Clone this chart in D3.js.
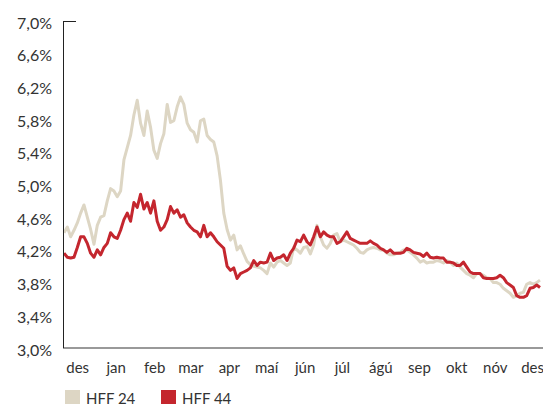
<!DOCTYPE html>
<html>
<head>
<meta charset="utf-8">
<script src="https://cdn.jsdelivr.net/npm/d3@7"></script>
<style>
  body { margin: 0; background: #fff; }
  svg text { font-family: Lato, "Open Sans", sans-serif; fill: #333; }
</style>
</head>
<body>
<svg id="chart" width="543" height="405"></svg>
<script>
// daily yields, roughly evenly spaced from early Dec to late Dec
const hff24 = [
  4.41, 4.48, 4.36, 4.44, 4.53, 4.65, 4.75, 4.60, 4.45, 4.27,
  4.50, 4.60, 4.62, 4.80, 4.95, 4.92, 4.85, 4.92, 5.30, 5.45,
  5.60, 5.85, 6.03, 5.75, 5.60, 5.90, 5.70, 5.42, 5.32, 5.50,
  5.62, 5.98, 5.76, 5.78, 5.95, 6.07, 5.98, 5.75, 5.67, 5.64,
  5.52, 5.78, 5.80, 5.60, 5.55, 5.52, 5.35, 5.05, 4.65, 4.45,
  4.32, 4.38, 4.20, 4.25, 4.15, 4.06, 4.02, 4.00, 3.99, 3.98,
  3.95, 3.91, 4.04, 3.99, 4.05, 4.07, 4.04, 4.01, 4.04, 4.23,
  4.20, 4.16, 4.23, 4.24, 4.15, 4.26, 4.50, 4.36, 4.26, 4.22,
  4.28, 4.38, 4.40, 4.30, 4.32, 4.30, 4.28, 4.26, 4.22, 4.17,
  4.16, 4.20, 4.22, 4.23, 4.22, 4.20, 4.20, 4.16, 4.14, 4.14,
  4.16, 4.17, 4.20, 4.20, 4.17, 4.14, 4.10, 4.05, 4.07, 4.04,
  4.05, 4.05, 4.07, 4.06, 4.04, 4.07, 4.05, 4.01, 4.04, 3.99,
  3.95, 3.91, 3.89, 3.86, 3.91, 3.91, 3.89, 3.86, 3.85, 3.80,
  3.80, 3.78, 3.73, 3.70, 3.67, 3.62, 3.64, 3.67, 3.68, 3.78,
  3.80, 3.78, 3.80, 3.83
];
const hff44 = [
  4.16, 4.11, 4.10, 4.11, 4.23, 4.36, 4.36, 4.28, 4.16, 4.11,
  4.20, 4.14, 4.23, 4.28, 4.41, 4.36, 4.34, 4.44, 4.57, 4.65,
  4.55, 4.78, 4.72, 4.88, 4.70, 4.78, 4.65, 4.80, 4.55, 4.44,
  4.48, 4.57, 4.73, 4.65, 4.69, 4.60, 4.63, 4.53, 4.48, 4.44,
  4.42, 4.36, 4.50, 4.36, 4.41, 4.36, 4.30, 4.26, 4.22, 4.00,
  3.95, 3.98, 3.85, 3.91, 3.93, 3.95, 3.98, 4.07, 4.01, 4.05,
  4.04, 4.05, 4.16, 4.07, 4.10, 4.11, 4.14, 4.07, 4.16, 4.22,
  4.32, 4.30, 4.38, 4.30, 4.26, 4.36, 4.48, 4.36, 4.42, 4.38,
  4.36, 4.36, 4.28, 4.30, 4.36, 4.42, 4.34, 4.32, 4.30, 4.28,
  4.28, 4.28, 4.31, 4.28, 4.26, 4.22, 4.20, 4.17, 4.20, 4.16,
  4.16, 4.16, 4.17, 4.22, 4.20, 4.17, 4.16, 4.15, 4.12, 4.16,
  4.11, 4.10, 4.11, 4.10, 4.10, 4.05, 4.05, 4.04, 4.01, 4.01,
  4.05, 3.99, 3.93, 3.91, 3.91, 3.91, 3.86, 3.85, 3.85, 3.85,
  3.86, 3.89, 3.86, 3.80, 3.77, 3.74, 3.64, 3.62, 3.62, 3.64,
  3.73, 3.74, 3.77, 3.74
];
const seriesNames = ['HFF 24', 'HFF 44'];
const seriesColors = ['#ddd6c4', '#c4262e'];
const monthLabels = ['des', 'jan', 'feb', 'mar', 'apr', 'maí', 'jún', 'júl', 'ágú', 'sep', 'okt', 'nóv', 'des'];
const yTicks = [3.0, 3.4, 3.8, 4.2, 4.6, 5.0, 5.4, 5.8, 6.2, 6.6, 7.0];
const startDate = new Date(2019, 11, 4);
const endDate = new Date(2020, 11, 21);

const svg = d3.select('#chart');
const x = d3.scaleTime().domain([startDate, endDate]).range([64, 540]);
const y = d3.scaleLinear().domain([3, 7]).range([348, 21]);

const dateAt = (i, n) => new Date(+startDate + (endDate - startDate) * i / (n - 1));
const fmt = d3.format('.1f');

// y axis labels
svg.append('g')
    .selectAll('text')
    .data(yTicks)
    .enter()
    .append('text')
    .attr('x', 52)
    .attr('y', (d) => y(d) + 1)
    .attr('text-anchor', 'end')
    .attr('dominant-baseline', 'central')
    .style('font-size', '16px')
    .text((d) => fmt(d).replace('.', ',') + '%');

// month labels at mid month
svg.append('g')
    .selectAll('text')
    .data(monthLabels)
    .enter()
    .append('text')
    .attr('x', (d, i) => x(new Date(2019, 11 + i, 15)))
    .attr('y', 367)
    .attr('text-anchor', 'middle')
    .attr('dominant-baseline', 'central')
    .style('font-size', '15px')
    .text((d) => d);

// lines
const line = d3.line()
    .x((d, i, arr) => x(dateAt(i, arr.length)))
    .y((d) => y(d));

[hff24, hff44].forEach((values, k) => {
    svg.append('path')
        .datum(values)
        .attr('d', line)
        .attr('fill', 'none')
        .attr('stroke', seriesColors[k])
        .attr('stroke-width', 3)
        .attr('stroke-linejoin', 'round');
});

// axes lines
svg.append('line')
    .attr('x1', 63).attr('x2', 543)
    .attr('y1', y(3)).attr('y2', y(3))
    .attr('style', 'stroke: #777; stroke-width: 1.5px;');
svg.append('line')
    .attr('x1', 63.5).attr('x2', 63.5)
    .attr('y1', y(7)).attr('y2', y(3))
    .attr('style', 'stroke: #222; stroke-width: 1px;');
svg.append('line')
    .attr('x1', 63).attr('x2', 76)
    .attr('y1', y(7) + 0.5).attr('y2', y(7) + 0.5)
    .attr('style', 'stroke: #222; stroke-width: 1px;');

// legend
const legend = svg.append('g')
    .selectAll('g')
    .data(seriesNames)
    .enter()
    .append('g')
    .attr('transform', (d, i) => `translate(${65 + i * 96}, 390)`);
legend.append('rect')
    .attr('width', 15)
    .attr('height', 14)
    .attr('fill', (d, i) => seriesColors[i]);
legend.append('text')
    .attr('x', 21)
    .attr('y', 7.5)
    .attr('dominant-baseline', 'central')
    .style('font-size', '15px')
    .text((d) => d);
</script>
</body>
</html>
